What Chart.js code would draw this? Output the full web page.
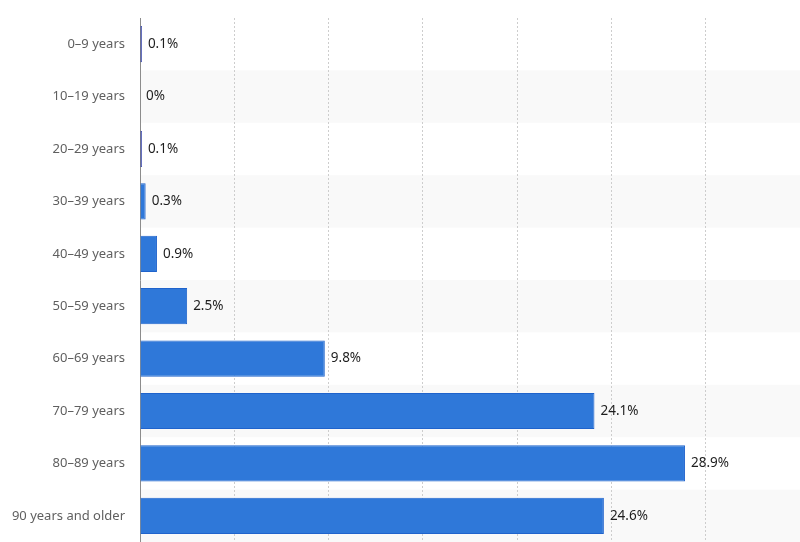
<!DOCTYPE html>
<html>
<head>
<meta charset="utf-8">
<script src="https://cdn.jsdelivr.net/npm/chart.js@4.4.0/dist/chart.umd.min.js"></script>
<style>
  html, body { margin: 0; padding: 0; background: #fff; }
  #wrap { width: 800px; height: 542px; position: relative; }
</style>
</head>
<body>
<div id="wrap"><canvas id="chart"></canvas></div>
<script>
// age groups and share of deaths (%)
const ageGroups = ['0–9 years', '10–19 years', '20–29 years', '30–39 years', '40–49 years',
                   '50–59 years', '60–69 years', '70–79 years', '80–89 years', '90 years and older'];
const shares    = [0.1, 0, 0.1, 0.3, 0.9, 2.5, 9.8, 24.1, 28.9, 24.6];
const xTicks    = [0, 5, 10, 15, 20, 25, 30, 35];

const FONT = "'Noto Sans', 'Open Sans', sans-serif";

// alternating row backgrounds
const rowBands = {
  id: 'rowBands',
  beforeDraw(chart) {
    const { ctx, chartArea, scales: { y } } = chart;
    const half = (y.getPixelForValue(1) - y.getPixelForValue(0)) / 2;
    ctx.save();
    ctx.fillStyle = '#f9f9f9';
    ageGroups.forEach((_, i) => {
      if (i % 2 === 1) {
        const cy = y.getPixelForValue(i);
        ctx.fillRect(chartArea.left, cy - half, chartArea.right - chartArea.left, half * 2);
      }
    });
    ctx.restore();
  }
};

// value labels at bar ends
const barLabels = {
  id: 'barLabels',
  afterDatasetsDraw(chart) {
    const { ctx } = chart;
    const meta = chart.getDatasetMeta(0);
    ctx.save();
    ctx.font = `13.5px ${FONT}`;
    ctx.fillStyle = '#1e1e1e';
    ctx.textAlign = 'left';
    ctx.textBaseline = 'middle';
    meta.data.forEach((bar, i) => {
      ctx.fillText(shares[i] + '%', bar.x + 6, bar.y);
    });
    ctx.restore();
  }
};

const tiny = ctx => ctx.raw !== undefined && ctx.raw < 0.2;

new Chart(document.getElementById('chart'), {
  type: 'bar',
  data: {
    labels: ageGroups,
    datasets: [{
      data: shares,
      backgroundColor: ctx => tiny(ctx) ? '#1b2c9e' : '#2f78d9',
      borderColor: ctx => tiny(ctx) ? '#1b2c9e' : '#1f63cc',
      borderWidth: 1,
      borderSkipped: 'left',
      barPercentage: 0.69,
      categoryPercentage: 1,
    }],
  },
  options: {
    indexAxis: 'y',
    responsive: true,
    maintainAspectRatio: false,
    animation: false,
    layout: { padding: { top: 18, right: 0, bottom: 0, left: 0 } },
    scales: {
      x: {
        min: 0, max: 35,
        afterBuildTicks: s => { s.ticks = xTicks.map(v => ({ value: v })); },
        ticks: { display: false },
        border: { display: false, dash: [2, 2] },
        grid: {
          color: ctx => ctx.tick && ctx.tick.value === 0 ? 'rgba(0,0,0,0)' : '#cdcdcd',
          lineWidth: 1,
          drawTicks: false,
        },
        afterFit: s => { s.height = 0; s.paddingLeft = 0; s.paddingRight = 0; },
      },
      y: {
        grid: { display: false, drawTicks: false },
        border: { display: true, color: '#8c8c8c', width: 1 },
        ticks: {
          color: '#5f5f5f',
          padding: 15,
          font: { family: FONT, size: 13 },
        },
        afterFit: s => { s.width = 140; s.paddingTop = 0; s.paddingBottom = 0; },
      },
    },
    plugins: {
      legend: { display: false },
      tooltip: { enabled: false },
    },
  },
  plugins: [rowBands, barLabels],
});
</script>
</body>
</html>
